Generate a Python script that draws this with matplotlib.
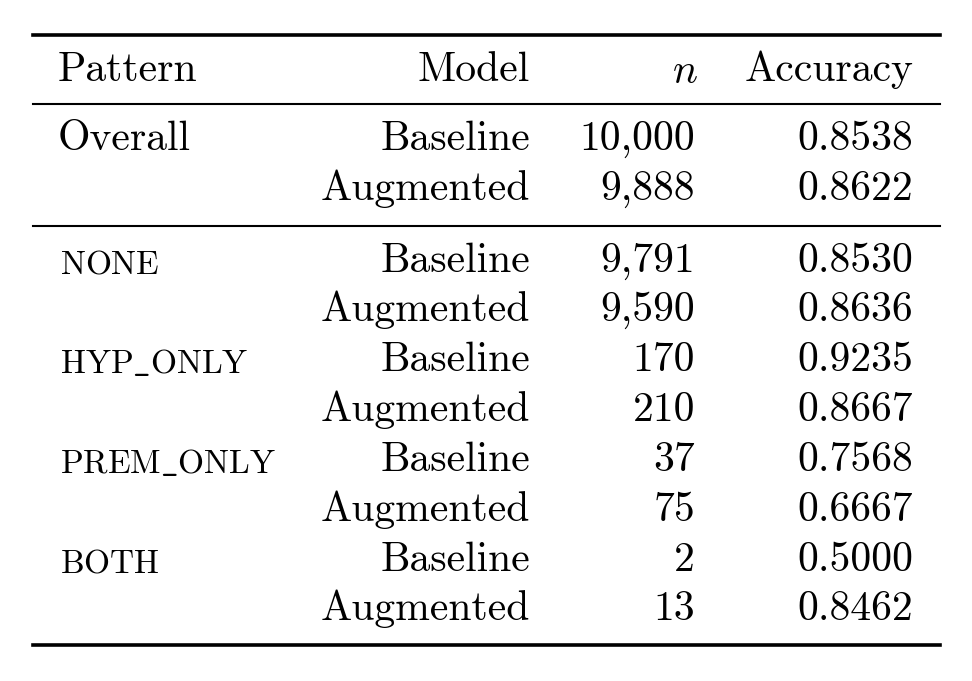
import matplotlib
matplotlib.use("Agg")
import matplotlib.pyplot as plt

plt.rcParams["mathtext.fontset"] = "cm"
plt.rcParams["font.family"] = ["cmr10", "DejaVu Serif"]
plt.rcParams["axes.formatter.use_mathtext"] = True

patterns = ["Overall", "NONE", "HYP_ONLY", "PREM_ONLY", "BOTH"]
models = ["Baseline", "Augmented"]
counts = [[10000, 9888], [9791, 9590], [170, 210], [37, 75], [2, 13]]
accuracy = [[0.8538, 0.8622], [0.8530, 0.8636], [0.9235, 0.8667],
            [0.7568, 0.6667], [0.5000, 0.8462]]

fig = plt.figure(figsize=(9.72, 6.81), dpi=100)
ax = fig.add_axes([0, 0, 1, 1])
ax.set_xlim(0, 972)
ax.set_ylim(681, 0)
ax.axis("off")

fs = 30
x_pat, x_mod, x_n, x_acc = 58, 530, 695, 913
x0, x1 = 33, 940

ax.plot([x0, x1], [35, 35], color="black", lw=2.6)
ax.plot([x0, x1], [104, 104], color="black", lw=1.5)
ax.plot([x0, x1], [226, 226], color="black", lw=1.5)
ax.plot([x0, x1], [645, 645], color="black", lw=2.6)

ax.text(x_pat, 70, "Pattern", fontsize=fs, ha="left", va="center")
ax.text(x_mod, 70, "Model", fontsize=fs, ha="right", va="center")
ax.text(x_n - 10, 72, "$n$", fontsize=fs, ha="center", va="center")
ax.text(x_acc, 70, "Accuracy", fontsize=fs, ha="right", va="center")

row_y = [[139, 189], [261, 310], [360, 410], [460, 510], [560, 609]]
for i, pat in enumerate(patterns):
    y0 = row_y[i][0]
    if i == 0:
        ax.text(x_pat, y0, pat, fontsize=fs, ha="left", va="center")
    else:
        # small caps imitation
        label = "$\\mathrm{" + pat.replace("_", "\\_") + "}$"
        ax.text(x_pat + 2, y0 + 4, label, fontsize=fs * 0.8, ha="left", va="center")
    for j, m in enumerate(models):
        y = row_y[i][j]
        ax.text(x_mod, y, m, fontsize=fs, ha="right", va="center")
        ax.text(x_n, y, f"{counts[i][j]:,}", fontsize=fs, ha="right", va="center")
        ax.text(x_acc, y, f"{accuracy[i][j]:.4f}", fontsize=fs, ha="right", va="center")

fig.savefig("out.png", dpi=100)
